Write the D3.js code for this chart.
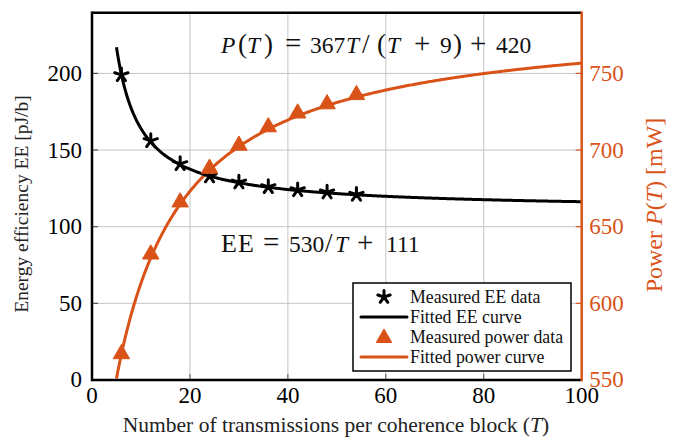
<!DOCTYPE html>
<html>
<head>
<meta charset="utf-8">
<script src="https://cdn.jsdelivr.net/npm/d3@7"></script>
<style>
  html, body { margin: 0; padding: 0; background: #fff; }
  svg text { font-family: "Liberation Serif", "Times New Roman", serif; }
</style>
</head>
<body>
<svg id="chart" width="678" height="439"></svg>
<script>
// Measurements at each coherence-block length T
const blockLengths = [6, 12, 18, 24, 30, 36, 42, 48, 54];
const measuredEE = [199, 156, 141, 133, 129, 126, 124, 122.5, 121];
const measuredPower = [567, 632, 666, 688, 703, 715, 724, 730, 736];

// Fitted models: EE = a/T + b,  P = a*T/(T + c) + d
const eeFitCoef = [530, 111];
const powerFitCoef = [367, 9, 420];
const fitRange = [5, 100];

// Axis ticks
const xTicks = [0, 20, 40, 60, 80, 100];
const eeTicks = [0, 50, 100, 150, 200];
const powerTicks = [550, 600, 650, 700, 750];

const orange = "#d95319";
const svg = d3.select("#chart");
const m = { left: 92, top: 12.7, right: 96.3, bottom: 59 };
const W = 678 - m.left - m.right, H = 439 - m.top - m.bottom;
const g = svg.append("g").attr("transform", `translate(${m.left},${m.top})`);

const x = d3.scaleLinear().domain([0, 100]).range([0, W]);
const yL = d3.scaleLinear().domain([0, 239.6]).range([H, 0]);
const yR = d3.scaleLinear().domain([550, 789.6]).range([H, 0]);

// grid
g.append("g").selectAll("line").data(xTicks.slice(1, -1)).join("line")
  .attr("x1", d => x(d)).attr("x2", d => x(d)).attr("y1", 0).attr("y2", H)
  .attr("stroke", "#c4c4c4").attr("stroke-width", 1);
g.append("g").selectAll("line").data(eeTicks.slice(1)).join("line")
  .attr("y1", d => yL(d)).attr("y2", d => yL(d)).attr("x1", 0).attr("x2", W)
  .attr("stroke", "#c4c4c4").attr("stroke-width", 1);

// fitted curves sampled along T
const tSamples = d3.range(fitRange[0], fitRange[1] + 0.001, 0.25);
const eeFit = tSamples.map(t => [t, eeFitCoef[0] / t + eeFitCoef[1]]);
const powerFit = tSamples.map(t => [t, powerFitCoef[0] * t / (t + powerFitCoef[1]) + powerFitCoef[2]]);

svg.append("clipPath").attr("id", "plotclip")
  .append("rect").attr("x", 0).attr("y", 0).attr("width", W).attr("height", H);

const plot = g.append("g").attr("clip-path", "url(#plotclip)");

plot.append("path").datum(eeFit)
  .attr("d", d3.line().x(d => x(d[0])).y(d => yL(d[1])))
  .attr("fill", "none").attr("stroke", "#000").attr("stroke-width", 3);

plot.append("path").datum(powerFit)
  .attr("d", d3.line().x(d => x(d[0])).y(d => yR(d[1])))
  .attr("fill", "none").attr("stroke", orange).attr("stroke-width", 3);

// markers
function starPath(r) {
  let p = "";
  for (let k = 0; k < 5; k++) {
    const a = (-90 + 72 * k) * Math.PI / 180;
    p += `M0,0L${(r * Math.cos(a)).toFixed(2)},${(r * Math.sin(a)).toFixed(2)}`;
  }
  return p;
}
function triPath(r) {
  const h = r * Math.sqrt(3) / 2;
  return `M0,${-r}L${h},${r / 2}L${-h},${r / 2}Z`;
}

g.append("g").selectAll("path").data(blockLengths.map((t, i) => [t, measuredEE[i]])).join("path")
  .attr("transform", d => `translate(${x(d[0])},${yL(d[1])})`)
  .attr("d", starPath(7)).attr("stroke", "#000").attr("stroke-width", 3)
  .attr("stroke-linecap", "round").attr("fill", "none");

g.append("g").selectAll("path").data(blockLengths.map((t, i) => [t, measuredPower[i]])).join("path")
  .attr("transform", d => `translate(${x(d[0])},${yR(d[1])})`)
  .attr("d", triPath(9.5)).attr("fill", orange).attr("stroke", orange).attr("stroke-width", 1);

// inward ticks
const tickLen = 6;
g.append("g").selectAll("line").data(xTicks.slice(1, -1)).join("line")
  .attr("x1", d => x(d)).attr("x2", d => x(d)).attr("y1", H).attr("y2", H - tickLen)
  .attr("stroke", "#555").attr("stroke-width", 1);
g.append("g").selectAll("line").data(eeTicks.slice(1)).join("line")
  .attr("x1", 0).attr("x2", tickLen).attr("y1", d => yL(d)).attr("y2", d => yL(d))
  .attr("stroke", "#555").attr("stroke-width", 1.2);
g.append("g").selectAll("line").data(powerTicks.slice(1)).join("line")
  .attr("x1", W).attr("x2", W - tickLen).attr("y1", d => yR(d)).attr("y2", d => yR(d))
  .attr("stroke", orange).attr("stroke-width", 1.2);

// frame
g.append("line").attr("x1", 0).attr("x2", W).attr("y1", 0).attr("y2", 0).attr("stroke", "#000").attr("stroke-width", 2.5);
g.append("line").attr("x1", 0).attr("x2", W).attr("y1", H).attr("y2", H).attr("stroke", "#000").attr("stroke-width", 2.5);
g.append("line").attr("x1", 0).attr("x2", 0).attr("y1", -1.2).attr("y2", H + 1.2).attr("stroke", "#000").attr("stroke-width", 2.5);
g.append("line").attr("x1", W).attr("x2", W).attr("y1", -1.2).attr("y2", H + 1.2).attr("stroke", orange).attr("stroke-width", 2.5);

// tick labels
g.append("g").selectAll("text").data(xTicks).join("text")
  .attr("x", d => x(d)).attr("y", H + 23).attr("text-anchor", "middle")
  .attr("font-size", 23).attr("fill", "#000").text(d => d);
g.append("g").selectAll("text").data(eeTicks).join("text")
  .attr("x", -10).attr("y", d => yL(d) + 7.5).attr("text-anchor", "end")
  .attr("font-size", 23).attr("fill", "#000").text(d => d);
g.append("g").selectAll("text").data(powerTicks).join("text")
  .attr("x", W + 7.5).attr("y", d => yR(d) + 7.5).attr("text-anchor", "start")
  .attr("font-size", 23).attr("fill", orange).text(d => d);

// axis titles
const xt = svg.append("text").attr("x", 336).attr("y", 432)
  .attr("text-anchor", "middle").attr("font-size", 21.5).attr("fill", "#222");
xt.append("tspan").text("Number of transmissions per coherence block (");
xt.append("tspan").attr("font-style", "italic").text("T");
xt.append("tspan").text(")");

svg.append("text").attr("transform", `translate(28,204) rotate(-90)`)
  .attr("text-anchor", "middle").attr("font-size", 19.5).attr("fill", "#222")
  .text("Energy efficiency EE [pJ/b]");

const yrt = svg.append("text").attr("transform", `translate(662,205) rotate(-90)`)
  .attr("text-anchor", "middle").attr("font-size", 24).attr("fill", orange);
yrt.append("tspan").text("Power ");
yrt.append("tspan").attr("font-style", "italic").text("P");
yrt.append("tspan").text("(");
yrt.append("tspan").attr("font-style", "italic").text("T");
yrt.append("tspan").text(") [mW]");

// equations, set piece by piece with math-style spacing
// style: "i" italic variable, "op" operator, "d" delimiter, "w" upright name
function mathText(y, pieces) {
  const t = svg.append("text").attr("y", y).attr("fill", "#111").attr("font-size", 23.5);
  pieces.forEach(([s, px, style]) => {
    const sp = t.append("tspan").attr("x", px).text(s);
    if (style === "i") sp.attr("font-style", "italic");
    if (style === "op") sp.attr("font-size", 29);
    if (style === "d") sp.attr("font-size", 27);
    if (style === "w") sp.attr("font-size", 26).attr("letter-spacing", 1);
  });
  return t;
}
mathText(53, [
  ["P", 221, "i"], ["(", 238, "d"], ["T", 247, "i"], [")", 264, "d"], ["=", 285, "op"],
  [String(powerFitCoef[0]), 310], ["T", 346, "i"], ["/", 362, "d"], ["(", 377, "d"], ["T", 387, "i"],
  ["+", 414, "op"], [String(powerFitCoef[1]), 440], [")", 453, "d"], ["+", 470, "op"],
  [String(powerFitCoef[2]), 496]
]);
mathText(252, [
  ["EE", 221, "w"], ["=", 263, "op"], [String(eeFitCoef[0]), 289], ["/", 325, "d"],
  ["T", 335, "i"], ["+", 357, "op"], [String(eeFitCoef[1]), 386]
]);

// legend
const lg = svg.append("g").attr("transform", "translate(353,283)");
lg.append("rect").attr("width", 218).attr("height", 88).attr("fill", "#fff")
  .attr("stroke", "#000").attr("stroke-width", 1.5);
const legendItems = [
  { label: "Measured EE data", kind: "star" },
  { label: "Fitted EE curve", kind: "line", color: "#000" },
  { label: "Measured power data", kind: "tri" },
  { label: "Fitted power curve", kind: "line", color: orange }
];
legendItems.forEach((it, i) => {
  const cy = 14 + i * 20;
  const row = lg.append("g").attr("transform", `translate(0,${cy})`);
  if (it.kind === "star") {
    row.append("path").attr("transform", "translate(31,0)").attr("d", starPath(6.5))
      .attr("stroke", "#000").attr("stroke-width", 3).attr("stroke-linecap", "round");
  } else if (it.kind === "tri") {
    row.append("path").attr("transform", "translate(31,1)").attr("d", triPath(9))
      .attr("fill", orange).attr("stroke", orange);
  } else {
    row.append("line").attr("x1", 8).attr("x2", 54).attr("y1", 0).attr("y2", 0)
      .attr("stroke", it.color).attr("stroke-width", 3).attr("stroke-linecap", "round");
  }
  row.append("text").attr("x", 57).attr("y", 5.5).attr("font-size", 17.8).attr("fill", "#111").text(it.label);
});
</script>
</body>
</html>
